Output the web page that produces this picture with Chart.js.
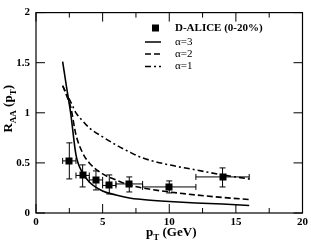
<!DOCTYPE html>
<html><head><meta charset="utf-8">
<script src="https://cdn.jsdelivr.net/npm/chart.js@4"></script>
<style>html,body{margin:0;padding:0;background:#fff}#wrap{width:311px;height:243px}</style>
</head><body><div id="wrap"><canvas id="c" width="311" height="243"></canvas></div>
<script>
// Data
const dataPt = [2.5, 3.5, 4.5, 5.5, 7, 10, 14];
const dataRaa = [0.52, 0.375, 0.33, 0.275, 0.29, 0.26, 0.36];
const dataPtLo = [2, 3, 4, 5, 6, 8, 12];
const dataPtHi = [3, 4, 5, 6, 8, 12, 16];
const dataRaaLo = [0.34, 0.26, 0.23, 0.19, 0.21, 0.20, 0.26];
const dataRaaHi = [0.70, 0.48, 0.42, 0.38, 0.36, 0.32, 0.45];

const curvePt = [2, 2.3, 2.6, 3, 3.5, 4, 5, 6, 7, 8, 10, 12, 14, 16];
const alpha3 = [1.51, 1.25, 1.0, 0.58, 0.40, 0.31, 0.22, 0.18, 0.15, 0.135, 0.115, 0.10, 0.09, 0.075];
const alpha2 = [1.27, 1.17, 1.06, 0.78, 0.60, 0.50, 0.39, 0.33, 0.28, 0.25, 0.21, 0.18, 0.155, 0.135];
const alpha1 = [1.27, 1.19, 1.11, 1.0, 0.92, 0.85, 0.76, 0.68, 0.61, 0.55, 0.48, 0.43, 0.38, 0.34];

const xTicks = [0, 5, 10, 15, 20];
const yTicks = [0, 0.5, 1, 1.5, 2];
const xMinor = [2.5, 7.5, 12.5, 17.5];

const legendLabels = ['D-ALICE (0-20%)', 'α=3', 'α=2', 'α=1'];

const pts = (xs, ys) => xs.map((x, i) => ({x, y: ys[i]}));
const SERIF = '"Liberation Serif", "DejaVu Serif", serif';

const framePlugin = {
  id: 'frame',
  afterDatasetsDraw(chart) {
    const {ctx, chartArea: a, scales: {x, y}} = chart;
    ctx.save();
    ctx.strokeStyle = '#000';
    ctx.lineWidth = 1;
    // error bars
    ctx.beginPath();
    for (let i = 0; i < dataPt.length; i++) {
      const px = x.getPixelForValue(dataPt[i]);
      const py = y.getPixelForValue(dataRaa[i]);
      const xl = x.getPixelForValue(dataPtLo[i]), xh = x.getPixelForValue(dataPtHi[i]);
      const yl = y.getPixelForValue(dataRaaLo[i]), yh = y.getPixelForValue(dataRaaHi[i]);
      ctx.moveTo(xl, py); ctx.lineTo(xh, py);
      ctx.moveTo(xl, py - 3); ctx.lineTo(xl, py + 3);
      ctx.moveTo(xh, py - 3); ctx.lineTo(xh, py + 3);
      ctx.moveTo(px, yl); ctx.lineTo(px, yh);
      ctx.moveTo(px - 3, yl); ctx.lineTo(px + 3, yl);
      ctx.moveTo(px - 3, yh); ctx.lineTo(px + 3, yh);
    }
    ctx.stroke();
    ctx.fillStyle = '#000';
    for (let i = 0; i < dataPt.length; i++) {
      const px = x.getPixelForValue(dataPt[i]);
      const py = y.getPixelForValue(dataRaa[i]);
      ctx.fillRect(Math.round(px) - 3.5, Math.round(py) - 3.5, 7, 7);
    }
    // frame
    ctx.lineWidth = 1.2;
    ctx.strokeRect(a.left, a.top, a.right - a.left, a.bottom - a.top);
    // ticks
    ctx.lineWidth = 1;
    ctx.beginPath();
    xTicks.forEach(v => {
      const p = x.getPixelForValue(v);
      ctx.moveTo(p, a.bottom); ctx.lineTo(p, a.bottom - 9);
      ctx.moveTo(p, a.top); ctx.lineTo(p, a.top + 9);
    });
    xMinor.forEach(v => {
      const p = x.getPixelForValue(v);
      ctx.moveTo(p, a.bottom); ctx.lineTo(p, a.bottom - 5);
      ctx.moveTo(p, a.top); ctx.lineTo(p, a.top + 5);
    });
    yTicks.forEach(v => {
      const p = y.getPixelForValue(v);
      ctx.moveTo(a.left, p); ctx.lineTo(a.left + 9, p);
      ctx.moveTo(a.right, p); ctx.lineTo(a.right - 9, p);
    });
    ctx.stroke();

    // legend
    const lx0 = 145, lx1 = 161, tx = 175;
    ctx.fillRect(152, 24.5, 7, 7);
    ctx.font = 'bold 11px ' + SERIF;
    ctx.textBaseline = 'middle';
    ctx.textAlign = 'left';
    ctx.fillText(legendLabels[0], tx, 28.5);
    ctx.font = '11px ' + SERIF;
    const dashes = [[], [6, 3], [6, 3, 2, 3]];
    const ly = [42, 54, 66.5];
    for (let k = 0; k < 3; k++) {
      ctx.setLineDash(dashes[k]);
      ctx.lineWidth = 1.5;
      ctx.beginPath(); ctx.moveTo(lx0, ly[k]); ctx.lineTo(lx1, ly[k]); ctx.stroke();
      ctx.fillText(legendLabels[k + 1], tx, ly[k]);
    }
    ctx.setLineDash([]);

    // axis titles
    ctx.textBaseline = 'alphabetic';
    const parts = [['p', 13, 0], ['T', 9, 4], [' (GeV)', 13, 0]];
    let w = 0;
    parts.forEach(p => { ctx.font = 'bold ' + p[1] + 'px ' + SERIF; w += ctx.measureText(p[0]).width; });
    let cx = (a.left + a.right) / 2 - w / 2 + 2;
    parts.forEach(p => { ctx.font = 'bold ' + p[1] + 'px ' + SERIF; ctx.fillText(p[0], cx, 236 + p[2]); cx += ctx.measureText(p[0]).width; });
    ctx.save();
    ctx.translate(12, (a.top + a.bottom) / 2);
    ctx.rotate(-Math.PI / 2);
    const yparts = [['R', 13, 0], ['AA', 9, 4], [' (p', 13, 0], ['T', 9, 4], [')', 13, 0]];
    w = 0;
    yparts.forEach(p => { ctx.font = 'bold ' + p[1] + 'px ' + SERIF; w += ctx.measureText(p[0]).width; });
    cx = -w / 2 + 4;
    yparts.forEach(p => { ctx.font = 'bold ' + p[1] + 'px ' + SERIF; ctx.fillText(p[0], cx, 0 + p[2]); cx += ctx.measureText(p[0]).width; });
    ctx.restore();
    ctx.restore();
  }
};

const lineDs = (label, ys, dash) => ({
  label, type: 'line', data: pts(curvePt, ys), borderColor: '#000', borderWidth: 1.6,
  borderDash: dash, pointRadius: 0, cubicInterpolationMode: 'monotone', fill: false
});

new Chart(document.getElementById('c'), {
  type: 'scatter',
  data: {
    datasets: [
      lineDs('α=3', alpha3, []),
      lineDs('α=2', alpha2, [6, 3]),
      lineDs('α=1', alpha1, [6, 3, 2, 3])
    ]
  },
  options: {
    responsive: false,
    animation: false,
    devicePixelRatio: 1,
    layout: {padding: {left: 0, right: 5, top: 5, bottom: 0}},
    plugins: {legend: {display: false}, tooltip: {enabled: false}},
    scales: {
      x: {
        type: 'linear', min: 0, max: 20,
        afterBuildTicks: s => { s.ticks = xTicks.map(v => ({value: v})); },
        afterFit: s => { s.height = 30; },
        grid: {display: false, drawTicks: false},
        border: {display: false},
        ticks: {color: '#000', font: {family: SERIF, size: 11, weight: 'bold'}, padding: 3, maxRotation: 0, callback: v => String(v)}
      },
      y: {
        type: 'linear', min: 0, max: 2,
        afterBuildTicks: s => { s.ticks = yTicks.map(v => ({value: v})); },
        afterFit: s => { s.width = 36; },
        grid: {display: false, drawTicks: false},
        border: {display: false},
        ticks: {color: '#000', font: {family: SERIF, size: 11, weight: 'bold'}, padding: 6, callback: v => String(v)}
      }
    }
  },
  plugins: [framePlugin]
});
</script>
</body></html>
